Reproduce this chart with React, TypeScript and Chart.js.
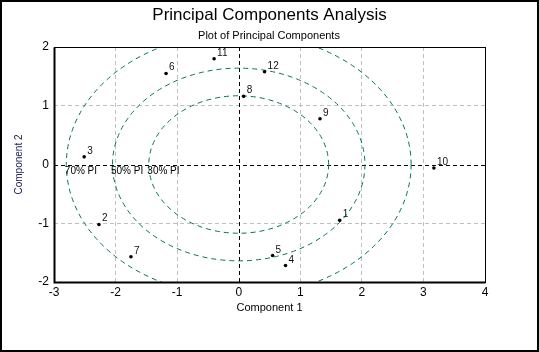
import React, { useEffect, useRef } from "react";
import { Chart, registerables } from "chart.js";

Chart.register(...registerables);

const TITLE = "Principal Components Analysis";
const SUBTITLE = "Plot of Principal Components";
const X_TITLE = "Component 1";
const Y_TITLE = "Component 2";

const POINT_LABELS = ["1", "2", "3", "4", "5", "6", "7", "8", "9", "10", "11", "12"];
const COMPONENT_1 = [1.64, -2.27, -2.51, 0.76, 0.55, -1.18, -1.75, 0.08, 1.32, 3.17, -0.4, 0.42];
const COMPONENT_2 = [-0.95, -1.02, 0.13, -1.72, -1.55, 1.55, -1.57, 1.16, 0.78, -0.06, 1.8, 1.58];

const X_MIN = -3;
const X_MAX = 4;
const Y_MIN = -2;
const Y_MAX = 2;

const PI_LABELS = ["30% PI", "50% PI", "70% PI"];
const PI_RADIUS_X = [1.46, 2.05, 2.8];
const PI_RADIUS_Y = [1.17, 1.64, 2.24];

const FONT = "Arial, 'Liberation Sans', sans-serif";
const GREEN = "#007a3d";

const decorPlugin = {
  id: "decor",
  beforeDatasetsDraw(chart: any) {
    const { ctx, chartArea: a, scales } = chart;
    const xs = scales.x;
    const ys = scales.y;
    ctx.save();
    ctx.beginPath();
    ctx.rect(a.left, a.top, a.right - a.left, a.bottom - a.top);
    ctx.clip();
    // zero lines
    ctx.strokeStyle = "#000";
    ctx.lineWidth = 1;
    ctx.setLineDash([4, 3]);
    const x0 = Math.round(xs.getPixelForValue(0)) + 0.5;
    const y0 = Math.round(ys.getPixelForValue(0)) + 0.5;
    ctx.beginPath();
    ctx.moveTo(x0, a.top);
    ctx.lineTo(x0, a.bottom);
    ctx.moveTo(a.left, y0);
    ctx.lineTo(a.right, y0);
    ctx.stroke();
    // ellipses
    ctx.strokeStyle = GREEN;
    ctx.setLineDash([5, 4]);
    const cx = xs.getPixelForValue(0);
    const cy = ys.getPixelForValue(0);
    for (let i = 0; i < PI_RADIUS_X.length; i++) {
      const rx = xs.getPixelForValue(PI_RADIUS_X[i]) - cx;
      const ry = cy - ys.getPixelForValue(PI_RADIUS_Y[i]);
      ctx.beginPath();
      ctx.ellipse(cx, cy, rx, ry, 0, 0, Math.PI * 2);
      ctx.stroke();
    }
    ctx.restore();

    // PI labels
    ctx.save();
    ctx.fillStyle = "#000";
    ctx.font = `10px ${FONT}`;
    ctx.textAlign = "left";
    ctx.textBaseline = "alphabetic";
    for (let i = 0; i < PI_LABELS.length; i++) {
      const lx = xs.getPixelForValue(-PI_RADIUS_X[i]) - 1.5;
      ctx.fillText(PI_LABELS[i], lx, cy + 9.5);
    }
    ctx.restore();

    // frame
    ctx.save();
    ctx.strokeStyle = "#000";
    ctx.setLineDash([]);
    ctx.lineWidth = 1;
    const l = Math.round(a.left) + 0.5;
    const r = Math.round(a.right) + 0.5;
    const t = Math.round(a.top) + 0.5;
    const b = Math.round(a.bottom) + 0.5;
    ctx.strokeRect(l, t, r - l, b - t);
    ctx.lineWidth = 2;
    ctx.beginPath();
    ctx.moveTo(l, t);
    ctx.lineTo(l, b);
    ctx.lineTo(r, b);
    ctx.stroke();
    ctx.restore();
  },
  afterDatasetsDraw(chart: any) {
    const { ctx } = chart;
    const meta = chart.getDatasetMeta(0);
    ctx.save();
    ctx.fillStyle = "#111";
    ctx.font = `10px ${FONT}`;
    ctx.textAlign = "left";
    ctx.textBaseline = "alphabetic";
    meta.data.forEach((el: any, i: number) => {
      ctx.fillText(POINT_LABELS[i], el.x + 3, el.y - 3);
    });
    ctx.restore();
  },
  afterDraw(chart: any) {
    const { ctx, chartArea: a, width, height } = chart;
    ctx.save();
    ctx.fillStyle = "#000";
    ctx.textAlign = "center";
    ctx.textBaseline = "alphabetic";
    ctx.font = `17px ${FONT}`;
    ctx.fillText(TITLE, 269.5, 19.5);
    ctx.font = `11px ${FONT}`;
    ctx.fillText(SUBTITLE, 269, 39);
    ctx.font = `11px ${FONT}`;
    ctx.fillText(X_TITLE, (a.left + a.right) / 2, 311);
    ctx.save();
    ctx.translate(21.5, (a.top + a.bottom) / 2);
    ctx.rotate(-Math.PI / 2);
    ctx.fillStyle = "#1a1a50";
    ctx.font = `10px ${FONT}`;
    ctx.fillText(Y_TITLE, 0, 0);
    ctx.restore();
    // outer border
    ctx.strokeStyle = "#000";
    ctx.lineWidth = 2;
    ctx.strokeRect(1, 1, width - 2, height - 2);
    ctx.restore();
  },
};

export default function App() {
  const ref = useRef<HTMLCanvasElement | null>(null);
  useEffect(() => {
    document.body.style.margin = "0";
    if (!ref.current) return;
    const gridColor = (c: any) => {
      const v = c.tick && c.tick.value;
      return v === 0 ? "rgba(0,0,0,0)" : "#c0c0c0";
    };
    const chart = new Chart(ref.current, {
      type: "scatter",
      data: {
        datasets: [
          {
            data: COMPONENT_1.map((x, i) => ({ x, y: COMPONENT_2[i] })),
            backgroundColor: "#000",
            borderColor: "#000",
            pointRadius: 1.8,
            pointBorderWidth: 0,
          },
        ],
      },
      plugins: [decorPlugin],
      options: {
        animation: false,
        responsive: false,
        devicePixelRatio: 1,
        layout: { padding: { left: 0, right: 54, top: 47, bottom: 0 } },
        plugins: {
          legend: { display: false },
          tooltip: { enabled: false },
          title: { display: false },
        },
        scales: {
          x: {
            type: "linear",
            min: X_MIN,
            max: X_MAX,
            afterFit: (s: any) => {
              s.height = 70;
            },
            ticks: {
              stepSize: 1,
              color: "#000",
              font: { family: FONT, size: 12 },
              padding: 3,
              maxRotation: 0,
            },
            grid: { color: gridColor, drawTicks: false, lineWidth: 1 },
            border: { display: false, dash: [4, 3] },
          },
          y: {
            type: "linear",
            min: Y_MIN,
            max: Y_MAX,
            afterFit: (s: any) => {
              s.width = 54;
            },
            ticks: {
              stepSize: 1,
              color: "#000",
              font: { family: FONT, size: 12 },
              padding: 5,
            },
            grid: { color: gridColor, drawTicks: false, lineWidth: 1 },
            border: { display: false, dash: [4, 3] },
          },
        },
      },
    } as any);
    return () => chart.destroy();
  }, []);
  return (
    <div style={{ position: "absolute", left: 0, top: 0, width: 539, height: 352 }}>
      <canvas ref={ref} width={539} height={352} style={{ width: 539, height: 352, display: "block" }} />
    </div>
  );
}
